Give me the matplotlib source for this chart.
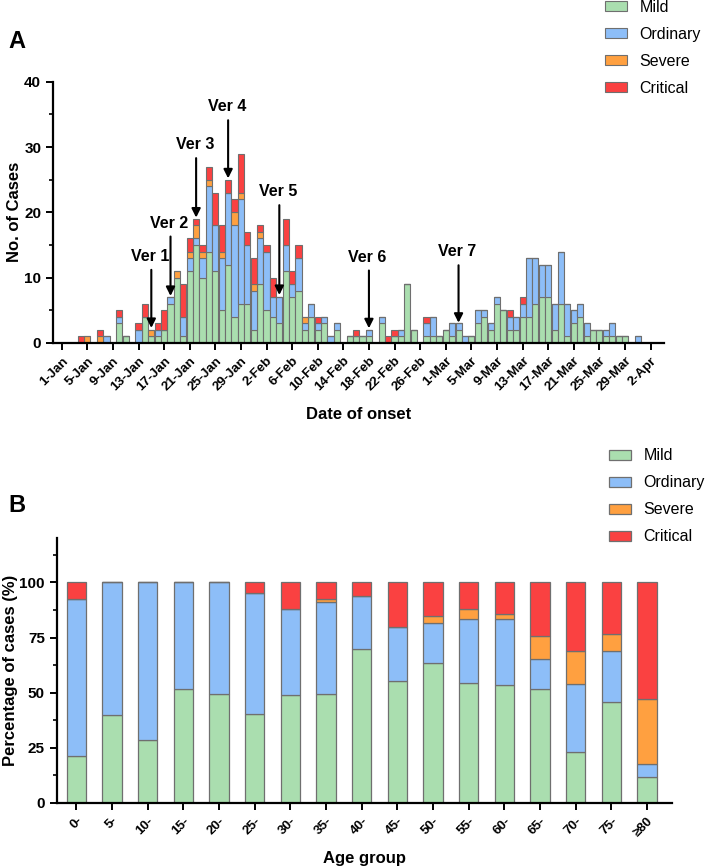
import numpy as np
import pandas as pd
import matplotlib
matplotlib.use("Agg")
import matplotlib.pyplot as plt
from matplotlib.ticker import MultipleLocator

plt.rcParams['font.family'] = ['Liberation Sans', 'DejaVu Sans']

# ---- panel A: daily cases by severity, 1-Jan .. 31-Mar 2020 ----
dates = pd.date_range('2020-01-01', '2020-03-31')
mild = [0, 0, 0, 0, 0, 0, 0, 0, 0, 3, 1, 0, 0, 4, 1, 1, 2, 6, 10, 1,
        11, 15, 10, 14, 11, 5, 12, 4, 6, 6, 2, 9, 5, 4, 3, 11, 7, 8, 2, 4,
        2, 3, 0, 2, 0, 1, 1, 1, 1, 0, 3, 0, 1, 1, 9, 2, 0, 1, 1, 1,
        2, 1, 2, 0, 1, 3, 4, 2, 6, 5, 2, 2, 4, 4, 6, 7, 7, 2, 6, 1,
        3, 4, 1, 2, 2, 1, 1, 1, 1, 0, 0]
ordinary = [0, 0, 0, 0, 0, 0, 0, 1, 0, 1, 0, 0, 2, 0, 0, 1, 0, 1, 0, 3,
            2, 1, 3, 10, 7, 8, 11, 14, 16, 9, 6, 7, 9, 3, 4, 4, 2, 5, 1, 2,
            1, 1, 1, 1, 0, 0, 0, 0, 1, 0, 1, 0, 0, 1, 0, 0, 0, 2, 3, 0,
            0, 2, 1, 1, 0, 2, 1, 1, 1, 0, 2, 2, 2, 9, 7, 5, 5, 4, 8, 5,
            2, 2, 2, 0, 0, 1, 2, 0, 0, 0, 1]
severe = [0, 0, 0, 0, 1, 0, 1, 0, 0, 0, 0, 0, 0, 0, 1, 0, 0, 0, 1, 0,
          1, 2, 1, 1, 0, 1, 0, 2, 1, 0, 1, 1, 0, 0, 0, 0, 0, 0, 1, 0,
          0, 0, 0, 0, 0, 0, 0, 0, 0, 0, 0, 0, 0, 0, 0, 0, 0, 0, 0, 0,
          0, 0, 0, 0, 0, 0, 0, 0, 0, 0, 0, 0, 0, 0, 0, 0, 0, 0, 0, 0,
          0, 0, 0, 0, 0, 0, 0, 0, 0, 0, 0]
critical = [0, 0, 0, 1, 0, 0, 1, 0, 0, 1, 0, 0, 1, 2, 0, 1, 3, 0, 0, 5,
            2, 1, 1, 2, 5, 4, 2, 2, 6, 2, 4, 1, 1, 3, 0, 4, 2, 2, 0, 0,
            1, 0, 0, 0, 0, 0, 1, 0, 0, 0, 0, 1, 1, 0, 0, 0, 0, 1, 0, 0,
            0, 0, 0, 0, 0, 0, 0, 0, 0, 0, 1, 0, 1, 0, 0, 0, 0, 0, 0, 0,
            0, 0, 0, 0, 0, 0, 0, 0, 0, 0, 0]

date_ticks = ['1-Jan', '5-Jan', '9-Jan', '13-Jan', '17-Jan', '21-Jan', '25-Jan',
              '29-Jan', '2-Feb', '6-Feb', '10-Feb', '14-Feb', '18-Feb', '22-Feb',
              '26-Feb', '1-Mar', '5-Mar', '9-Mar', '13-Mar', '17-Mar', '21-Mar',
              '25-Mar', '29-Mar', '2-Apr']

# version markers: label, day index, arrow tip, arrow tail (cases)
versions = [('Ver 1', 14, 2.3, 11.2), ('Ver 2', 17, 7.2, 16.3),
            ('Ver 3', 21, 19.2, 28.3), ('Ver 4', 26, 25.2, 34.1),
            ('Ver 5', 34, 7.35, 21.1), ('Ver 6', 48, 2.25, 11.1),
            ('Ver 7', 62, 3.1, 11.9)]

# ---- panel B: percentage by age group ----
age_groups = ['0-', '5-', '10-', '15-', '20-', '25-', '30-', '35-', '40-',
              '45-', '50-', '55-', '60-', '65-', '70-', '75-', '≥80']
pct_mild = [21.4, 40.0, 28.4, 51.8, 49.4, 40.5, 49.0, 49.2, 69.8,
            55.5, 63.5, 54.4, 53.5, 51.7, 22.9, 46.0, 11.7]
pct_ordinary = [71.2, 60.0, 71.6, 48.2, 50.6, 54.5, 39.0, 41.8, 24.0,
                24.3, 18.2, 28.8, 30.0, 13.6, 30.9, 23.1, 5.9]
pct_severe = [0, 0, 0, 0, 0, 0, 0, 1.6, 0,
              0, 3.3, 4.8, 2.4, 10.6, 15.3, 7.7, 29.4]
pct_critical = [7.4, 0, 0, 0, 0, 5.0, 12.0, 7.4, 6.2,
                20.2, 15.0, 12.0, 14.1, 24.1, 30.9, 23.2, 53.0]

names = ['Mild', 'Ordinary', 'Severe', 'Critical']
colors = ['#aadeaf', '#8dbef8', '#ffa040', '#fa4141']
edge = '#6f6f6f'

fig = plt.figure(figsize=(7.09, 8.68), dpi=100)
W, H = 709, 868

def px_axes(l, r, t, b):
    return fig.add_axes([l / W, 1 - b / H, (r - l) / W, (b - t) / H])

def style(ax):
    for s in ['top', 'right']:
        ax.spines[s].set_visible(False)
    for s in ['left', 'bottom']:
        ax.spines[s].set_linewidth(1.6)
    ax.tick_params(which='major', length=5, width=1.4, direction='out')
    ax.tick_params(which='minor', length=3, width=1.2, direction='out')

# panel A
ax1 = px_axes(53, 664, 81.7, 343)
x = np.arange(len(dates))
series = [mild, ordinary, severe, critical]
bottom = np.zeros(len(dates))
handles = []
for vals, c, n in zip(series, colors, names):
    vals = np.array(vals, dtype=float)
    b = ax1.bar(x, vals, bottom=bottom, width=0.95, color=c, edgecolor=edge,
                linewidth=0.8, label=n)
    handles.append(b)
    bottom += vals
ax1.set_xlim(-1.36, 94.1)
ax1.set_ylim(0, 40)
ax1.yaxis.set_major_locator(MultipleLocator(10))
ax1.yaxis.set_minor_locator(MultipleLocator(5))
ax1.set_xticks(np.arange(0, 4 * len(date_ticks), 4))
ax1.set_xticklabels(date_ticks, rotation=45, ha='right', rotation_mode='anchor',
                    fontsize=9.5, fontweight='bold')
for lab in ax1.get_yticklabels():
    lab.set_fontweight('bold')
    lab.set_fontsize(11)
style(ax1)
ax1.set_ylabel('No. of Cases', fontsize=12, fontweight='bold')
ax1.yaxis.set_label_coords((22 - 53) / 611, 0.5)
ax1.set_xlabel('Date of onset', fontsize=12, fontweight='bold', labelpad=10)

for lab, day, tip, tail in versions:
    ax1.annotate('', xy=(day, tip), xytext=(day, tail),
                 arrowprops=dict(arrowstyle='-|>', color='black', lw=1.5,
                                 mutation_scale=13, shrinkA=0, shrinkB=0))
    ax1.text(day - 0.2, tail + 2.05, lab, ha='center', va='center',
             fontsize=11.5, fontweight='bold')

fig.legend(handles=handles, labels=names, loc='upper left',
           bbox_to_anchor=(605 / W, 1.0), frameon=False, fontsize=11.5,
           borderaxespad=0, borderpad=0, handlelength=1.4, handleheight=0.6,
           handletextpad=0.75, labelspacing=0.75)

# panel B
ax2 = px_axes(56.7, 672, 538.3, 803)
xb = np.arange(len(age_groups))
bottom = np.zeros(len(age_groups))
handles2 = []
for vals, c, n in zip([pct_mild, pct_ordinary, pct_severe, pct_critical], colors, names):
    vals = np.array(vals, dtype=float)
    b = ax2.bar(xb, vals, bottom=bottom, width=0.54, color=c, edgecolor=edge,
                linewidth=0.9, label=n)
    handles2.append(b)
    bottom += vals
ax2.set_xlim(-0.55, 16.7)
ax2.set_ylim(0, 120)
ax2.set_yticks([0, 25, 50, 75, 100])
ax2.yaxis.set_minor_locator(MultipleLocator(12.5))
ax2.set_xticks(xb)
ax2.set_xticklabels(age_groups, rotation=45, ha='right', rotation_mode='anchor',
                    fontsize=9.5, fontweight='bold')
for lab in ax2.get_yticklabels():
    lab.set_fontweight('bold')
    lab.set_fontsize(11)
style(ax2)
ax2.set_ylabel('Percentage of cases (%)', fontsize=12, fontweight='bold')
ax2.yaxis.set_label_coords((18 - 56.7) / 615.3, 0.5)
ax2.set_xlabel('Age group', fontsize=12, fontweight='bold', labelpad=9)

fig.legend(handles=handles2, labels=names, loc='upper left',
           bbox_to_anchor=(609 / W, 1 - 448.5 / H), frameon=False, fontsize=11.5,
           borderaxespad=0, borderpad=0, handlelength=1.4, handleheight=0.6,
           handletextpad=0.75, labelspacing=0.75)

fig.text(8 / W, 1 - 42 / H, 'A', fontsize=17, fontweight='bold', va='center')
fig.text(8 / W, 1 - 505 / H, 'B', fontsize=17, fontweight='bold', va='center')

fig.savefig('out.png', dpi=100)
